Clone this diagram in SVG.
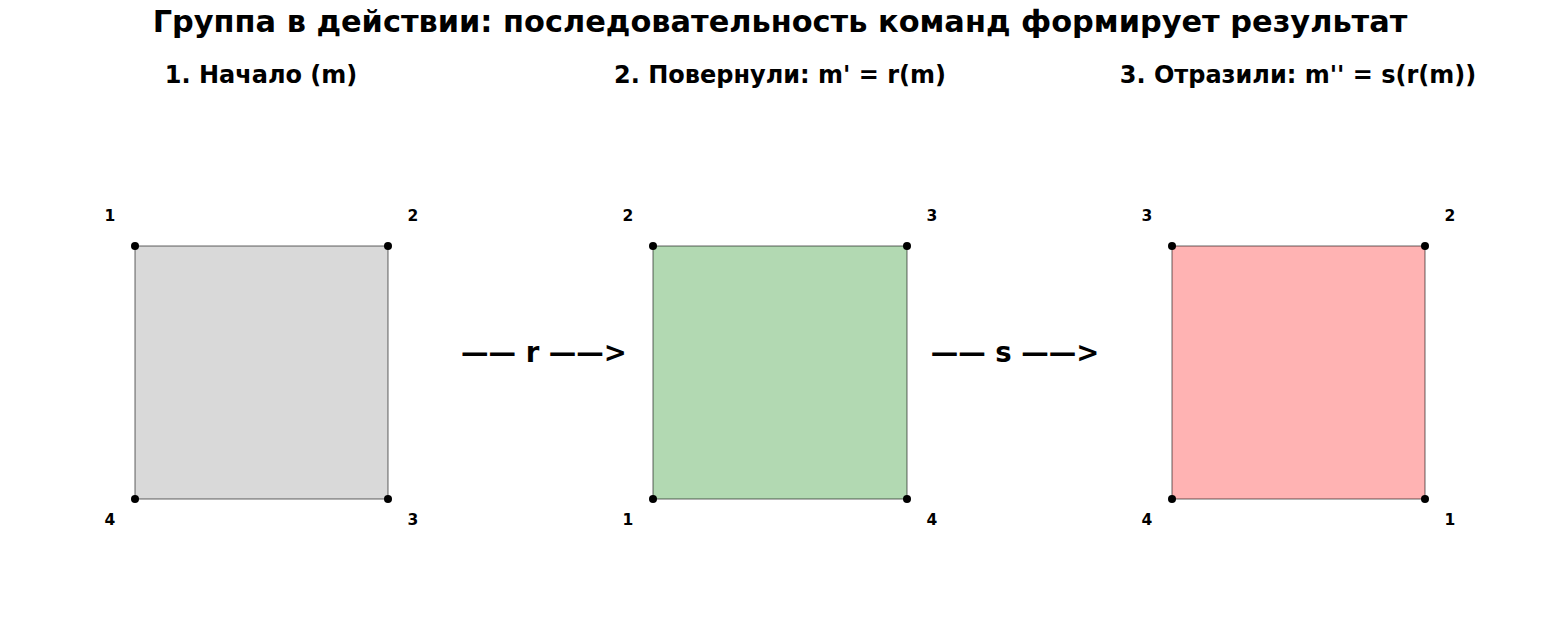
<svg xmlns="http://www.w3.org/2000/svg" width="1560" height="634" viewBox="0 0 1560 634">
<style>
text{font-family:"DejaVu Sans","Liberation Sans",sans-serif;font-weight:bold;fill:#000}
.title{font-size:30.4px;text-anchor:middle}
.sub{font-size:24px;text-anchor:middle}
.lbl{font-size:15.5px;text-anchor:middle}
.arr{font-size:27.5px;text-anchor:middle}
.sq{stroke:#000;stroke-opacity:0.3;stroke-width:2}
.dot{fill:#000}
</style>
<rect width="1560" height="634" fill="#fff"/>
<text class="title" x="780" y="32">Группа в действии: последовательность команд формирует результат</text>
<g id="panel1">
<text class="sub" x="261" y="83">1. Начало (m)</text>
<rect class="sq" x="135" y="246" width="253" height="253" fill="#d9d9d9"/>
<circle class="dot" cx="135" cy="246" r="4"/><circle class="dot" cx="388" cy="246" r="4"/>
<circle class="dot" cx="388" cy="499" r="4"/><circle class="dot" cx="135" cy="499" r="4"/>
<text class="lbl" x="110" y="221">1</text><text class="lbl" x="413" y="221">2</text>
<text class="lbl" x="413" y="525">3</text><text class="lbl" x="110" y="525">4</text>
</g>
<g id="panel2">
<text class="sub" x="780" y="83">2. Повернули: m' = r(m)</text>
<rect class="sq" x="653" y="246" width="254" height="253" fill="#b2d9b2"/>
<circle class="dot" cx="653" cy="246" r="4"/><circle class="dot" cx="907" cy="246" r="4"/>
<circle class="dot" cx="907" cy="499" r="4"/><circle class="dot" cx="653" cy="499" r="4"/>
<text class="lbl" x="628" y="221">2</text><text class="lbl" x="932" y="221">3</text>
<text class="lbl" x="932" y="525">4</text><text class="lbl" x="628" y="525">1</text>
</g>
<g id="panel3">
<text class="sub" x="1298" y="83">3. Отразили: m'' = s(r(m))</text>
<rect class="sq" x="1172" y="246" width="253" height="253" fill="#ffb3b3"/>
<circle class="dot" cx="1172" cy="246" r="4"/><circle class="dot" cx="1425" cy="246" r="4"/>
<circle class="dot" cx="1425" cy="499" r="4"/><circle class="dot" cx="1172" cy="499" r="4"/>
<text class="lbl" x="1147" y="221">3</text><text class="lbl" x="1450" y="221">2</text>
<text class="lbl" x="1450" y="525">1</text><text class="lbl" x="1147" y="525">4</text>
</g>
<g id="connectors">
<text class="arr" x="544" y="362">—— r ——&gt;</text>
<text class="arr" x="1015" y="362">—— s ——&gt;</text>
</g>
</svg>
